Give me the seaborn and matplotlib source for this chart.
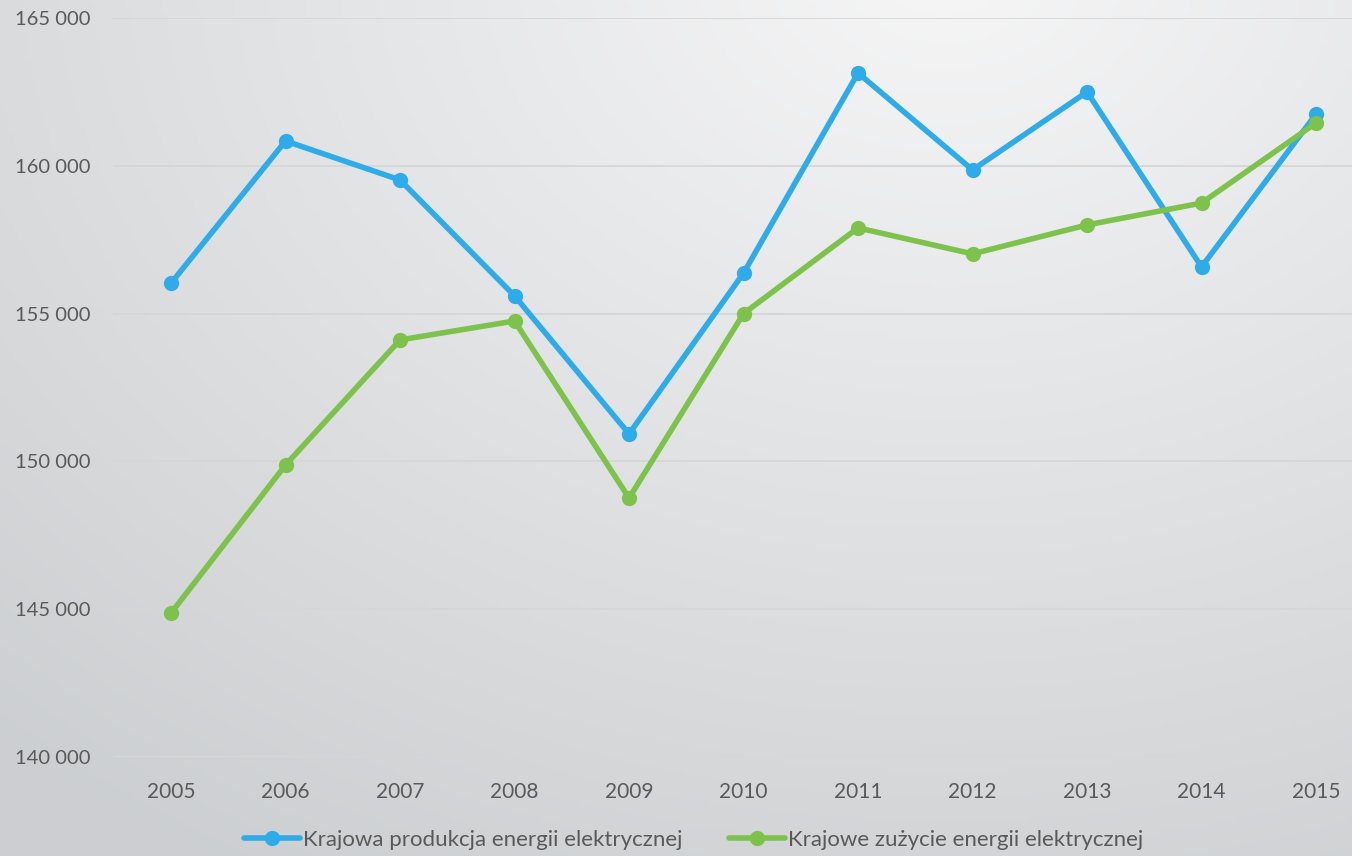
import numpy as np
import pandas as pd
import seaborn as sns
import matplotlib.pyplot as plt
from matplotlib.lines import Line2D
from matplotlib.ticker import FuncFormatter

# values
years = ['2005', '2006', '2007', '2008', '2009', '2010',
         '2011', '2012', '2013', '2014', '2015']
produkcja = [156030, 160840, 159520, 155600, 150930, 156370,
             163140, 159860, 162500, 156580, 161750]
zuzycie = [144870, 149880, 154110, 154750, 148760, 155000,
           157900, 157020, 158000, 158740, 161450]
series_names = ['Krajowa produkcja energii elektrycznej',
                'Krajowe zużycie energii elektrycznej']
colors = ['#2EABE9', '#7DC24B']

df = pd.DataFrame({
    'rok': years * 2,
    'wartosc': produkcja + zuzycie,
    'seria': [series_names[0]] * len(years) + [series_names[1]] * len(years),
})

sns.set_theme(style="white")
plt.rcParams['font.family'] = ['Lato', 'DejaVu Sans']
text_col = '#595959'

fig = plt.figure(figsize=(13.52, 8.56), dpi=100)

# soft grey background gradient
bg = fig.add_axes([0, 0, 1, 1], zorder=-10)
yy, xx = np.mgrid[0:1:200j, 0:1:300j]
dist = np.sqrt(((xx - 0.7) * 1.2) ** 2 + (yy - 1.05) ** 2)
top = np.array([0.965, 0.965, 0.968])
bottom = np.array([0.80, 0.81, 0.82])
t = np.clip(dist / 1.25, 0, 1)[..., None]
img = top * (1 - t) + bottom * t
bg.imshow(img, origin='lower', extent=[0, 1, 0, 1], aspect='auto')
bg.axis('off')

ax = fig.add_axes([113 / 1352, 1 - 757 / 856, 1 - 113 / 1352, (757 - 18) / 856])
ax.set_facecolor('none')

sns.lineplot(data=df, x='rok', y='wartosc', hue='seria', palette=colors,
             marker='o', markersize=11, linewidth=4, markeredgewidth=0,
             sort=False, legend=False, ax=ax)

ax.set_ylim(140000, 165000)
ax.set_yticks(np.arange(140000, 165001, 5000))
ax.set_xlim(-0.507, 10.314)
ax.yaxis.set_major_formatter(FuncFormatter(lambda v, p: f'{int(v):,}'.replace(',', ' ')))
ax.grid(axis='y', color='#d6d6d6', linewidth=1.3)
ax.grid(axis='x', visible=False)
ax.set_axisbelow(True)
for s in ax.spines.values():
    s.set_visible(False)
ax.set_xlabel('')
ax.set_ylabel('')
ax.tick_params(axis='y', labelsize=14.5, labelcolor=text_col, pad=16, length=0)
ax.tick_params(axis='x', labelsize=15, labelcolor=text_col, pad=18, length=0)

handles = [Line2D([], [], color=c, linewidth=4, marker='o', markersize=11,
                  markeredgewidth=0) for c in colors]
fig.legend(handles, series_names, loc='center', bbox_to_anchor=(0.513, 1 - 840 / 856),
           ncol=2, frameon=False, fontsize=16, labelcolor=text_col,
           handlelength=2.5, handletextpad=0.15, columnspacing=2.1)

fig.savefig('out.png', dpi=100)
